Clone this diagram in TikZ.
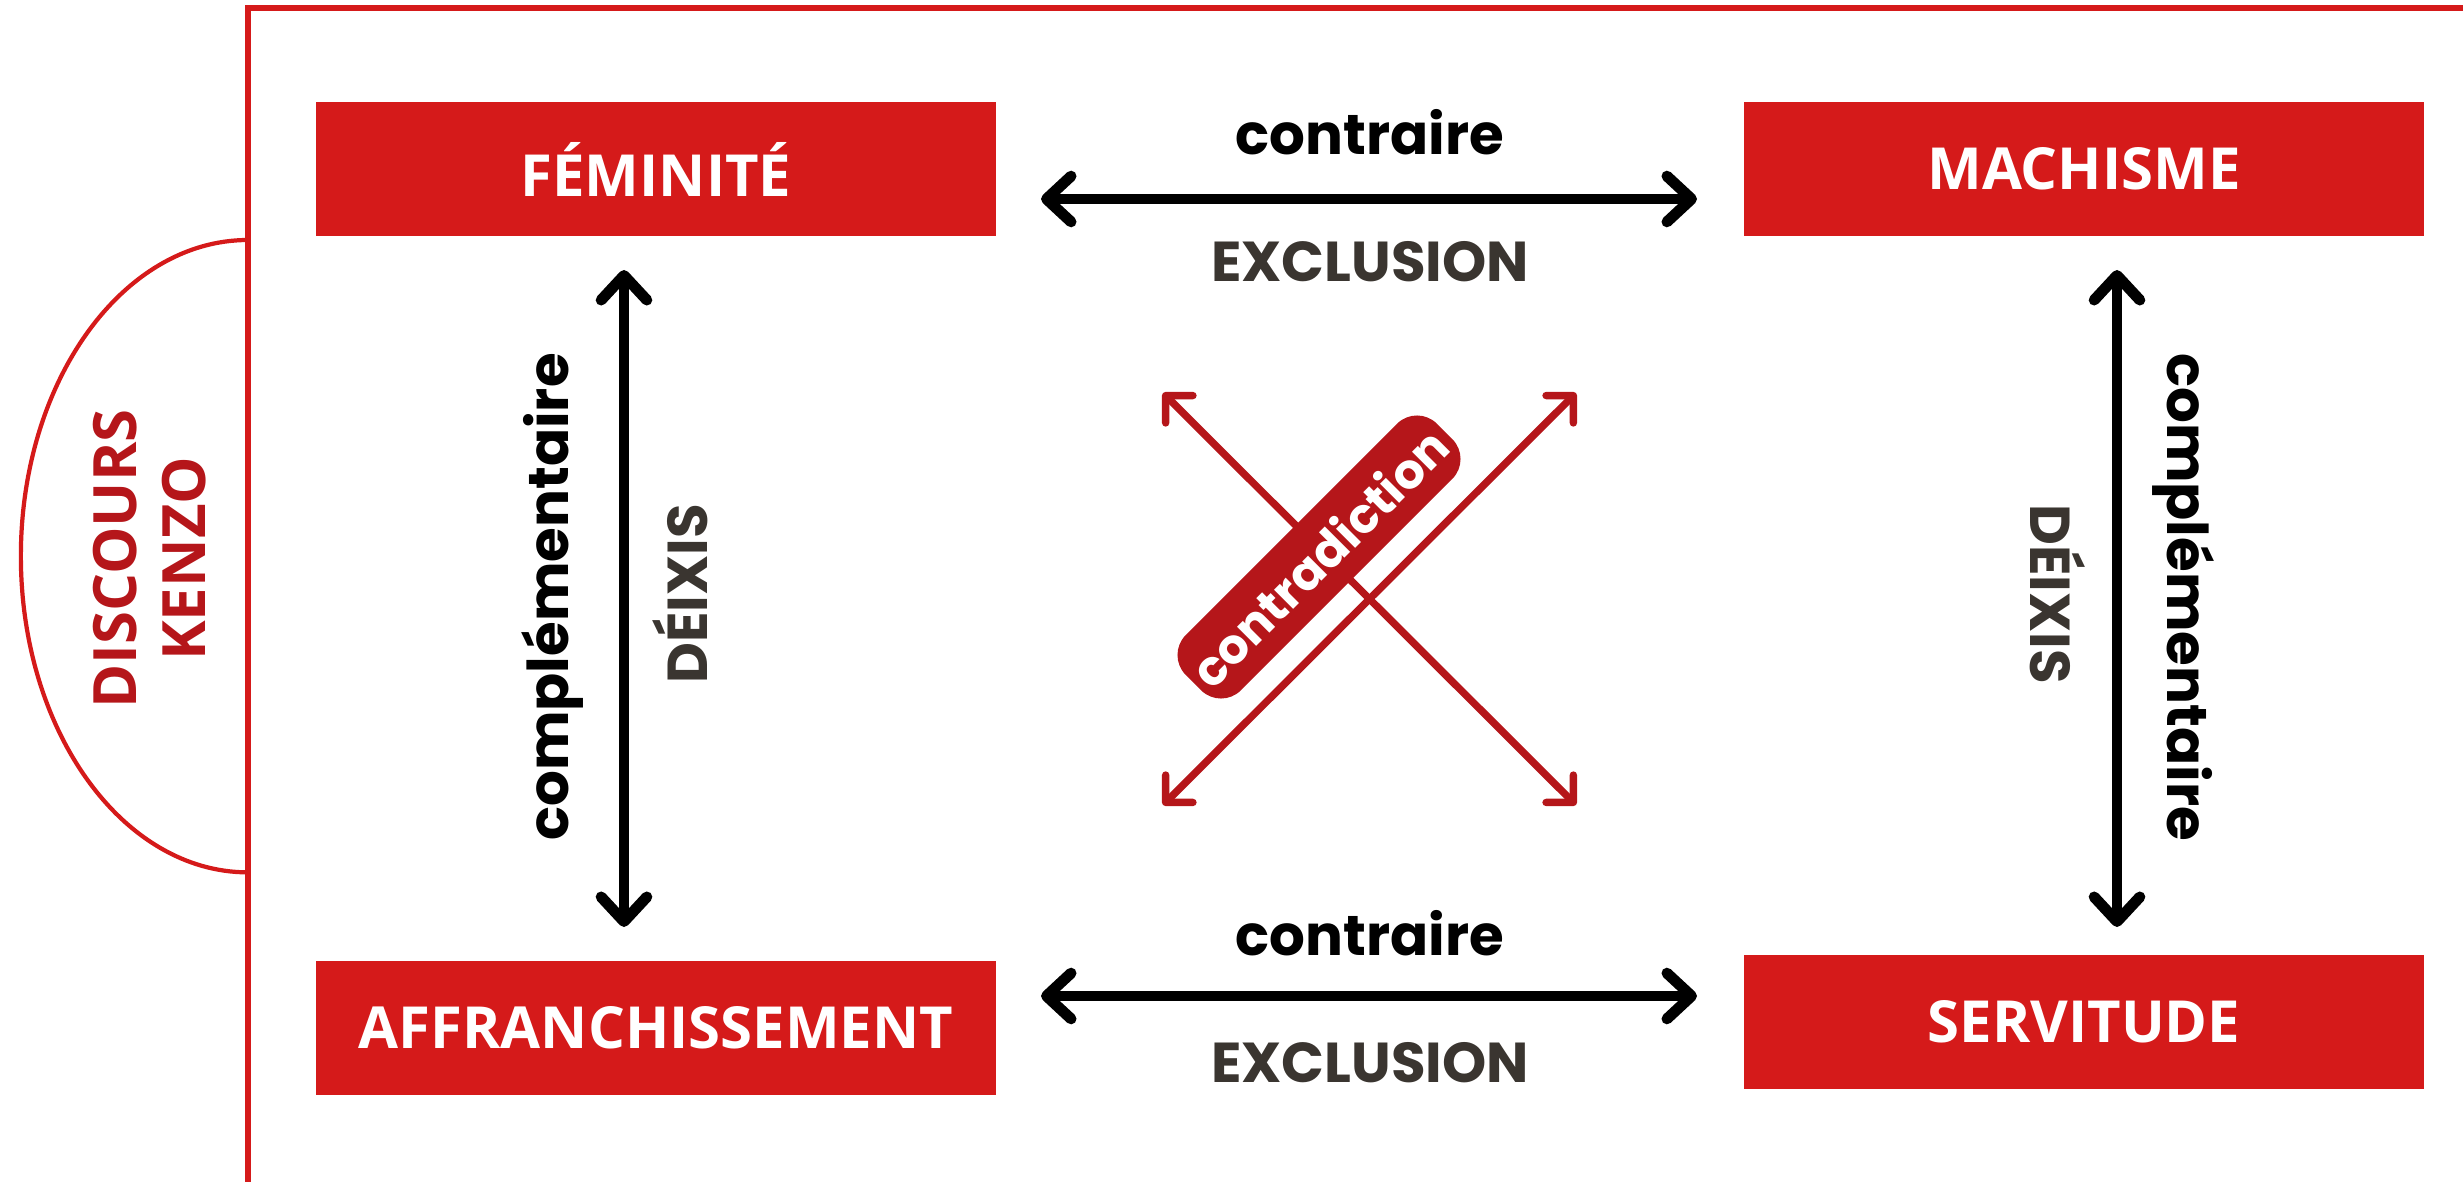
\documentclass[tikz,border=0pt]{standalone}
\usepackage{fontspec}
\usetikzlibrary{arrows.meta}
\newfontfamily\popfont{Poppins}
\newfontfamily\opfont{Open Sans}
\definecolor{boxred}{HTML}{D51A1A}
\definecolor{darkred}{HTML}{B5161A}
\definecolor{txtgray}{HTML}{3A3530}
\begin{document}
\begin{tikzpicture}[x=0.01cm, y=-0.01cm,
  sq/.style={fill=boxred, text=white, minimum width=6.8cm, minimum height=1.34cm, inner sep=0pt, font=\opfont\bfseries\fontsize{16.5}{18}\selectfont},
  lbl/.style={inner sep=0pt, font=\popfont\bfseries\fontsize{16}{18}\selectfont},
  arr/.style={line width=3.1pt, {Straight Barb[length=7pt,width=13pt,round]}-{Straight Barb[length=7pt,width=13pt,round]}},
  xarr/.style={darkred, line width=2.1pt, {Straight Barb[length=5.5pt,width=11pt,round]}-{Straight Barb[length=5.5pt,width=11pt,round]}}]
\useasboundingbox (0,0) rectangle (2463,1182);
% frame and half ellipse
\draw[boxred, line width=1.8pt] (248,1182) -- (248,8) -- (2463,8);
\draw[boxred, line width=1.2pt] (248,240) arc[start angle=90, end angle=270, x radius=2.27cm, y radius=3.16cm];
\node[rotate=90, align=center, text=darkred, inner sep=0pt, font=\opfont\bfseries\fontsize{17}{19.6}\selectfont] (kenzo) at (150,559) {DISCOURS\\KENZO};
% the four terms
\node[sq] (sq0) at (656,169) {FÉMINITÉ};
\node[sq] (sq1) at (2084,169) {MACHISME};
\node[sq] (sq2) at (656,1028) {AFFRANCHISSEMENT};
\node[sq] (sq3) at (2084,1022) {SERVITUDE};
% arrow ends
\coordinate (h0) at (1041,199);
\coordinate (h1) at (1697,199);
\coordinate (h2) at (1041,996);
\coordinate (h3) at (1697,996);
\coordinate (v0) at (624,270);
\coordinate (v1) at (624,927);
\coordinate (v2) at (2117,270);
\coordinate (v3) at (2117,927);
\draw[arr] (h0) -- (h1);
\draw[arr] (h2) -- (h3);
\draw[arr] (v0) -- (v1);
\draw[arr] (v2) -- (v3);
\node[lbl] (ct0) at (1370,132) {contraire};
\node[lbl, text=txtgray] (ex0) at (1370,262) {EXCLUSION};
\node[lbl] (ct1) at (1370,933) {contraire};
\node[lbl, text=txtgray] (ex1) at (1370,1063) {EXCLUSION};
\node[lbl, rotate=90] (cp0) at (553,597) {complémentaire};
\node[lbl, rotate=90, text=txtgray] (dx0) at (680,594) {DÉIXIS};
\node[lbl, rotate=-90, text=txtgray] (dx1) at (2058,594) {DÉIXIS};
\node[lbl, rotate=-90] (cp1) at (2183,597) {complémentaire};
% contradiction
\coordinate (x0) at (1163,393);
\coordinate (x1) at (1576,805);
\coordinate (x2) at (1163,805);
\coordinate (x3) at (1576,393);
\draw[xarr] (x0) -- (x1);
\node[rotate=45, fill=darkred, text=white, rounded corners=8pt, minimum width=3.55cm, minimum height=0.78cm, inner sep=0pt, font=\popfont\bfseries\fontsize{13.8}{16}\selectfont] (contra) at (1319,557) {contradiction};
\draw[xarr] (x2) -- (x3);
\end{tikzpicture}
\end{document}
